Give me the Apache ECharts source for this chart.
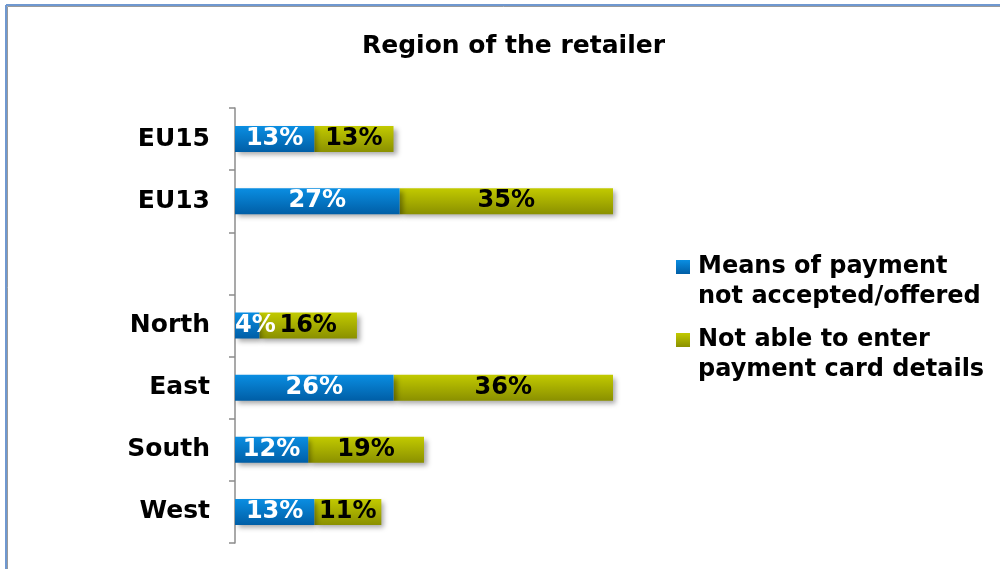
<!DOCTYPE html>
<html>
<head>
<meta charset="utf-8">
<script src="https://cdn.jsdelivr.net/npm/echarts@6/dist/echarts.min.js"></script>
<style>
html,body{margin:0;padding:0;background:#fff;}
#chart{width:1000px;height:569px;}
</style>
</head>
<body>
<div id="chart"></div>
<script>
const titleText = 'Region of the retailer';
const categories = ['EU15', 'EU13', '', 'North', 'East', 'South', 'West'];
const seriesNames = ['Means of payment\nnot accepted/offered', 'Not able to enter\npayment card details'];
const meansNotAccepted = [13, 27, null, 4, 26, 12, 13];
const notAbleToEnter = [13, 35, null, 16, 36, 19, 11];

const FONT = '"DejaVu Sans", sans-serif';
const blueGrad = new echarts.graphic.LinearGradient(0, 0, 0, 1, [
  {offset: 0, color: '#0a8ee2'}, {offset: 1, color: '#005ea6'}]);
const greenGrad = new echarts.graphic.LinearGradient(0, 0, 0, 1, [
  {offset: 0, color: '#c2ca00'}, {offset: 1, color: '#8a9000'}]);

const chart = echarts.init(document.getElementById('chart'), null, {renderer: 'canvas'});

function legendItem(idx, top, fill) {
  return {
    type: 'group', left: 676, top: top,
    children: [
      {type: 'rect', shape: {x: 0, y: 8, width: 14, height: 14}, style: {fill: fill}},
      {type: 'text', x: 22, y: 0, style: {text: seriesNames[idx], font: 'bold 24px ' + FONT,
        fill: '#000', lineHeight: 30, verticalAlign: 'top'}}
    ]
  };
}

const option = {
  backgroundColor: '#fff',
  animation: false,
  title: {
    text: titleText, left: 357, top: 29,
    textStyle: {fontFamily: FONT, fontWeight: 'bold', fontSize: 25, color: '#000'}
  },
  grid: {left: 235, right: 387, top: 108, bottom: 26, containLabel: false},
  xAxis: {type: 'value', min: 0, max: 62, show: false},
  yAxis: {
    type: 'category', data: categories, inverse: true,
    axisLine: {show: true, lineStyle: {color: '#8c8c8c', width: 1.5}},
    axisTick: {show: true, length: 6, lineStyle: {color: '#8c8c8c', width: 1.5}},
    splitLine: {show: false},
    axisLabel: {margin: 25, fontFamily: FONT, fontWeight: 'bold', fontSize: 25, color: '#000'}
  },
  series: [
    {
      name: seriesNames[0], type: 'bar', stack: 'a', data: meansNotAccepted, barWidth: 26, z: 3,
      itemStyle: {color: blueGrad, shadowColor: 'rgba(0,0,0,0.35)', shadowBlur: 5, shadowOffsetX: 3, shadowOffsetY: 3},
      label: {show: true, position: 'inside', formatter: '{c}%', fontFamily: FONT, fontWeight: 'bold', fontSize: 24, color: '#fff'},
      labelLayout: function (p) {
        if (p.labelRect.x < p.rect.x) {
          return {x: p.rect.x, y: p.rect.y + p.rect.height / 2, align: 'left', verticalAlign: 'middle'};
        }
      }
    },
    {
      name: seriesNames[1], type: 'bar', stack: 'a', data: notAbleToEnter, barWidth: 26, z: 2,
      itemStyle: {color: greenGrad, shadowColor: 'rgba(0,0,0,0.35)', shadowBlur: 5, shadowOffsetX: 3, shadowOffsetY: 3},
      label: {show: true, position: 'inside', formatter: '{c}%', fontFamily: FONT, fontWeight: 'bold', fontSize: 24, color: '#000'}
    }
  ],
  graphic: [
    {type: 'line', shape: {x1: 6, y1: 5, x2: 1000, y2: 5}, style: {stroke: '#6f98d0', lineWidth: 2}},
    {type: 'line', shape: {x1: 6, y1: 5, x2: 6, y2: 569}, style: {stroke: '#6f98d0', lineWidth: 2}},
    {type: 'line', shape: {x1: 7.5, y1: 6.5, x2: 1000, y2: 6.5}, style: {stroke: '#9a9a9a', lineWidth: 1}},
    {type: 'line', shape: {x1: 7.5, y1: 6.5, x2: 7.5, y2: 569}, style: {stroke: '#9a9a9a', lineWidth: 1}},
    legendItem(0, 252, blueGrad),
    legendItem(1, 325, greenGrad)
  ]
};
chart.setOption(option);
</script>
</body>
</html>
